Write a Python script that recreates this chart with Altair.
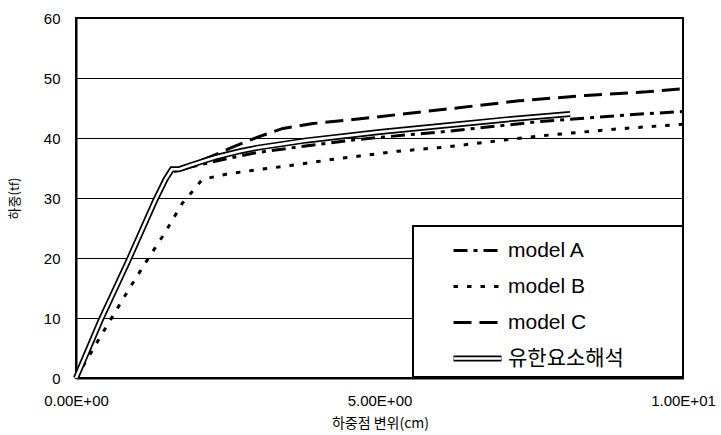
import altair as alt
import pandas as pd

# Load-displacement curves: displacement at loading point (cm) vs load (tf)
series_names = ["model A", "model B", "model C", "유한요소해석"]

model_a_x = [0, 0.4, 0.86, 1.3, 1.55, 1.9, 2.5, 3.0, 3.66, 4.5, 5.0, 6.1, 7.6, 9.3, 10.0]
model_a_y = [0, 9.3, 19.2, 29.2, 34.2, 35.2, 36.6, 37.6, 38.5, 39.6, 40.1, 41.1, 42.7, 44.0, 44.4]

model_b_x = [0, 0.45, 0.86, 1.17, 1.47, 1.75, 1.91, 2.08, 2.49, 2.98, 3.53, 4.2, 5.3, 6.1, 7.0, 7.7, 8.9, 10.0]
model_b_y = [0, 7.7, 14.6, 19.6, 24.3, 29.1, 31.0, 33.1, 34.0, 34.7, 35.4, 36.4, 37.8, 38.5, 39.6, 40.4, 41.5, 42.3]

model_c_x = [0, 0.4, 0.86, 1.3, 1.55, 1.9, 2.2, 2.54, 2.98, 3.41, 3.9, 4.68, 6.0, 7.3, 8.4, 9.4, 10.0]
model_c_y = [0, 9.3, 19.2, 29.2, 34.2, 35.6, 36.8, 38.3, 40.1, 41.6, 42.4, 43.2, 44.7, 46.2, 47.1, 47.7, 48.2]

fea_x = [0, 0.4, 0.86, 1.3, 1.48, 1.58, 1.7, 1.9, 2.3, 2.7, 3.0, 3.8, 5.0, 6.0, 7.1, 8.14]
fea_y = [0, 9.5, 19.5, 29.5, 33.2, 34.8, 34.8, 35.5, 36.8, 37.8, 38.4, 39.6, 41.0, 42.0, 43.1, 44.0]

x_tick_values = [0, 5, 10]
x_tick_labels = ["0.00E+00", "5.00E+00", "1.00E+01"]
y_tick_values = [0, 10, 20, 30, 40, 50, 60]

rows = []
for name, xs, ys in zip(series_names,
                        [model_a_x, model_b_x, model_c_x, fea_x],
                        [model_a_y, model_b_y, model_c_y, fea_y]):
    for order, (xv, yv) in enumerate(zip(xs, ys)):
        rows.append({"series": name, "disp": xv, "load": yv, "order": order})
df = pd.DataFrame(rows)
fea_df = df[df["series"] == "유한요소해석"].assign(outer="outer", core="core")

# x tick labels in engineering notation
label_expr = "''"
for v, lab in zip(reversed(x_tick_values), reversed(x_tick_labels)):
    label_expr = f"datum.value == {v} ? '{lab}' : ({label_expr})"

LATIN = "Liberation Sans, Noto Sans CJK KR"
KOREAN = "Noto Sans CJK KR"

x_enc = alt.X(
    "disp:Q",
    scale=alt.Scale(domain=[0, 10], nice=False, zero=False),
    axis=alt.Axis(
        values=x_tick_values, labelExpr=label_expr, grid=False,
        title="하중점 변위(cm)", titleFont=KOREAN, titleFontSize=14,
        titleFontWeight="normal", titleX=304, titleY=45,
        titleBaseline="middle", titleAlign="center",
        labelFont=LATIN, labelFontSize=15, labelPadding=15, labelColor="black",
        tickSize=0, domainColor="black", domainWidth=2,
        labelFlush=False, labelOverlap=False,
    ),
)
y_enc = alt.Y(
    "load:Q",
    scale=alt.Scale(domain=[0, 60], nice=False),
    axis=alt.Axis(
        values=y_tick_values, grid=True, gridColor="black", gridWidth=1,
        gridOpacity=1,
        title="하중(tf)", titleFont=KOREAN, titleFontSize=13,
        titleFontWeight="normal", titleX=-62, titleY=180, titleAngle=270,
        titleBaseline="middle", titleAlign="center",
        labelFont=LATIN, labelFontSize=15, labelPadding=16, labelColor="black",
        tickSize=0, domainColor="black", domainWidth=2,
    ),
)

# legend frame (pixels inside the plot area)
BOX_X0, BOX_X1, BOX_Y0, BOX_Y1 = 337, 607, 208, 359
LEG_Y = 208
ROW_STEP = 36
common_legend = dict(
    orient="none", title=None, legendX=BOX_X0,
    labelFont=LATIN, labelFontSize=21,
    symbolOffset=40, labelOffset=17, rowPadding=12, padding=11,
    labelLimit=400,
)

# every legend keeps an entry size of ceil(sqrt(symbolSize) + strokeWidth) = 27
legend_main = alt.Legend(
    legendY=LEG_Y, labelColor="black", symbolStrokeColor="black",
    symbolType="M-2,0L2,0", symbolSize=576, symbolStrokeWidth=3,
    **common_legend,
)
# single-entry legends laid over the last row: black outline, then white core
legend_outer = alt.Legend(
    legendY=LEG_Y + 3 * ROW_STEP, labelColor="transparent",
    labelExpr="'유한요소해석'", zindex=2,
    symbolType="M-2.2857,0L2.2857,0", symbolSize=441, symbolStrokeWidth=6,
    **common_legend,
)
legend_core = alt.Legend(
    legendY=LEG_Y + 3 * ROW_STEP, labelColor="transparent",
    labelExpr="'유한요소해석'", zindex=3,
    symbolType="M-2,0L2,0", symbolSize=576, symbolStrokeWidth=2.6,
    **common_legend,
)

models = alt.Chart(df).mark_line(color="black", strokeWidth=3, strokeCap="butt").encode(
    x=x_enc,
    y=y_enc,
    order="order:Q",
    strokeDash=alt.StrokeDash(
        "series:N",
        scale=alt.Scale(domain=series_names,
                        range=[[14, 6, 4, 6], [4.5, 9], [18, 8], [1, 0]]),
        legend=legend_main,
    ),
)

# finite-element curve as a double line: black outline with a white core
fea_outer = alt.Chart(fea_df).mark_line(strokeWidth=6).encode(
    x="disp:Q", y="load:Q", order="order:Q",
    color=alt.Color("outer:N", scale=alt.Scale(range=["black"]), legend=legend_outer),
)
fea_inner = alt.Chart(fea_df).mark_line(strokeWidth=2.6).encode(
    x="disp:Q", y="load:Q", order="order:Q",
    color=alt.Color("core:N", scale=alt.Scale(range=["white"]), legend=legend_core),
)

legend_frame = alt.Chart(pd.DataFrame({"frame": [0]})).mark_rect(
    fill="white", stroke="black", strokeWidth=2
).encode(
    x=alt.value(BOX_X0), x2=alt.value(BOX_X1),
    y=alt.value(BOX_Y0), y2=alt.value(BOX_Y1),
)

chart = alt.layer(models, fea_outer, fea_inner, legend_frame).resolve_scale(
    color="independent"
).properties(
    width=607, height=360,
    autosize=alt.AutoSizeParams(type="none"),
    padding={"left": 76, "top": 18, "right": 38, "bottom": 57},
    background="white",
).configure_view(
    stroke="black", strokeWidth=2
)

chart.save("out.html", embed_options={"renderer": "svg", "actions": False})
